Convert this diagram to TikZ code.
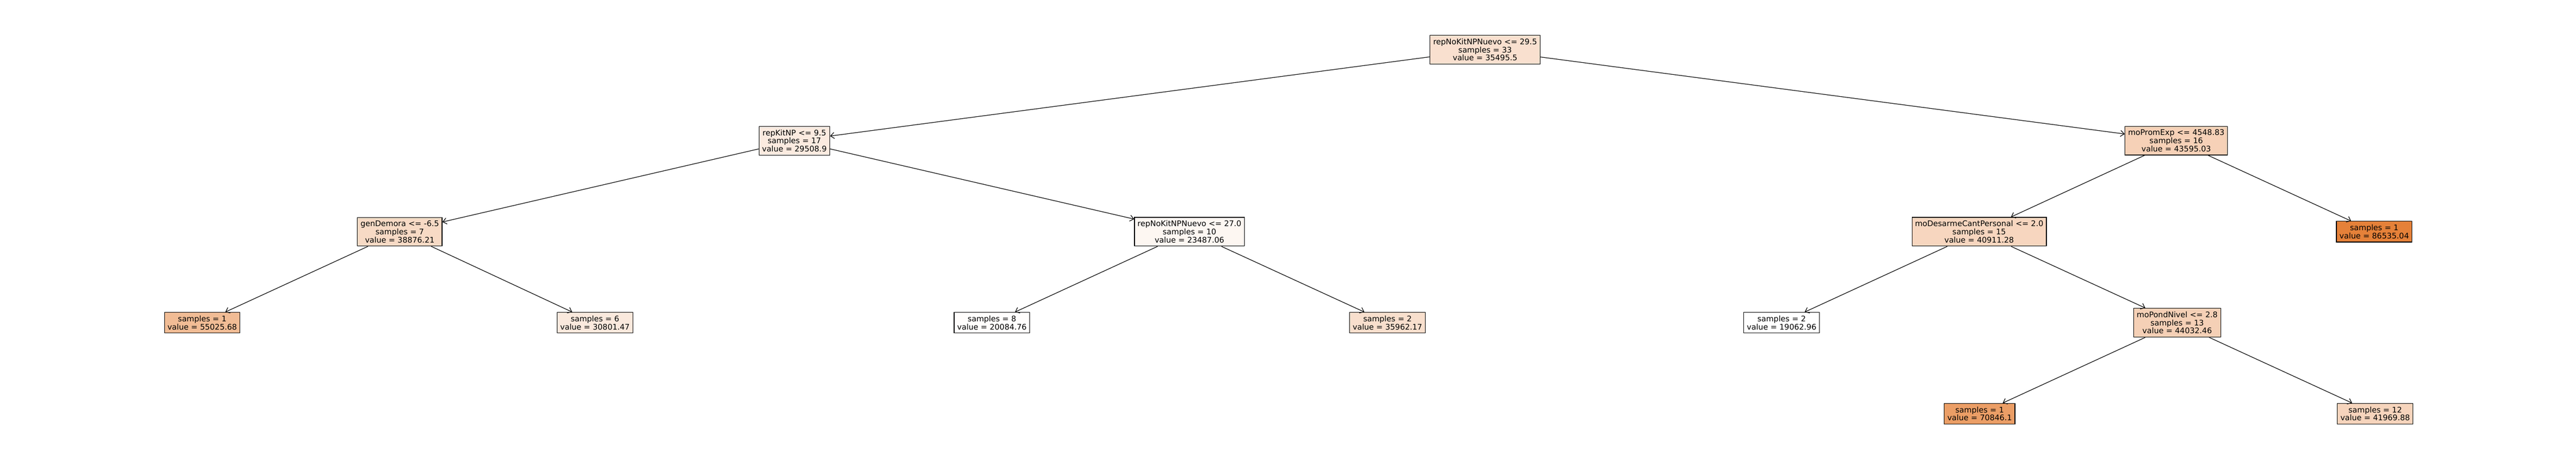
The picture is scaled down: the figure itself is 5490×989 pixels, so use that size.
\documentclass[tikz,border=0pt]{standalone}
\usepackage{fontspec}
\setmainfont{DejaVu Sans}
\usetikzlibrary{positioning, arrows.meta}
\definecolor{rootfill}{RGB}{249,224,207}
\definecolor{kitfill}{RGB}{251,235,224}
\definecolor{promfill}{RGB}{246,209,183}
\definecolor{demorafill}{RGB}{247,218,197}
\definecolor{nokitfill}{RGB}{253,247,242}
\definecolor{desarmefill}{RGB}{247,214,191}
\definecolor{pondfill}{RGB}{245,208,182}
\definecolor{leafmax}{RGB}{229,129,57}
\definecolor{leafa}{RGB}{241,188,149}
\definecolor{leafb}{RGB}{250,233,221}
\definecolor{leafc}{RGB}{255,253,252}
\definecolor{leafd}{RGB}{248,223,205}
\definecolor{leafe}{RGB}{235,158,102}
\definecolor{leaff}{RGB}{246,212,188}
\tikzset{
->, % edges point from parent to child
>={Straight Barb[length=8pt,width=13pt]}, % open arrow heads
on grid, % distances are measured between centres
every node/.style={draw, line width=1.3pt, align=center, inner xsep=6.5pt, inner ysep=7pt, font=\fontsize{16.5pt}{17.3pt}\selectfont}, % boxes of the tree
every edge/.style={draw, line width=1.3pt}, % connectors
}
\begin{document}
\begin{tikzpicture}
        \useasboundingbox (0,0) rectangle (5490pt,-989pt);
        \node[fill=rootfill] (root) at (3165pt,-106pt) {repNoKitNPNuevo <= 29.5\\samples = 33\\value = 35495.5};
        \node[fill=kitfill, below left=194pt and 1472pt of root] (kitnp) {repKitNP <= 9.5\\samples = 17\\value = 29508.9};
        \node[fill=promfill, below right=194pt and 1473pt of root] (promexp) {moPromExp <= 4548.83\\samples = 16\\value = 43595.03};

        \node[fill=demorafill, below left=194pt and 841pt of kitnp] (demora) {genDemora <= -6.5\\samples = 7\\value = 38876.21};
        \node[fill=nokitfill, below right=194pt and 842pt of kitnp] (nokit) {repNoKitNPNuevo <= 27.0\\samples = 10\\value = 23487.06};
        \node[fill=desarmefill, below left=194pt and 420pt of promexp] (desarme) {moDesarmeCantPersonal <= 2.0\\samples = 15\\value = 40911.28};
        \node[fill=leafmax, below right=194pt and 422pt of promexp] (l86535) {samples = 1\\value = 86535.04};

        \node[fill=leafa, below left=194pt and 421pt of demora] (l55025) {samples = 1\\value = 55025.68};
        \node[fill=leafb, below right=194pt and 416pt of demora] (l30801) {samples = 6\\value = 30801.47};
        \node[fill=leafc, below left=194pt and 421pt of nokit] (l20084) {samples = 8\\value = 20084.76};
        \node[fill=leafd, below right=194pt and 422pt of nokit] (l35962) {samples = 2\\value = 35962.17};
        \node[fill=white, below left=194pt and 421pt of desarme] (l19062) {samples = 2\\value = 19062.96};
        \node[fill=pondfill, below right=194pt and 422pt of desarme] (pond) {moPondNivel <= 2.8\\samples = 13\\value = 44032.46};

        \node[fill=leafe, below left=194pt and 421pt of pond] (l70846) {samples = 1\\value = 70846.1};
        \node[fill=leaff, below right=194pt and 422pt of pond] (l41969) {samples = 12\\value = 41969.88};

        \draw (root) edge (kitnp);
        \draw (root) edge (promexp);
        \draw (kitnp) edge (demora);
        \draw (kitnp) edge (nokit);
        \draw (promexp) edge (desarme);
        \draw (promexp) edge (l86535);
        \draw (demora) edge (l55025);
        \draw (demora) edge (l30801);
        \draw (nokit) edge (l20084);
        \draw (nokit) edge (l35962);
        \draw (desarme) edge (l19062);
        \draw (desarme) edge (pond);
        \draw (pond) edge (l70846);
        \draw (pond) edge (l41969);
    \end{tikzpicture}
\end{document}
